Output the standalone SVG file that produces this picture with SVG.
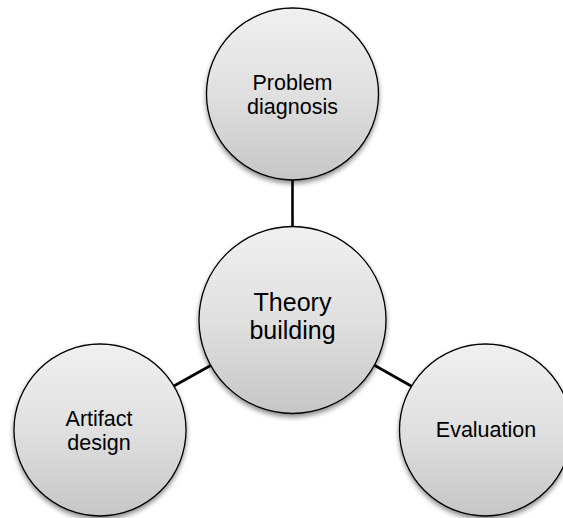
<svg xmlns="http://www.w3.org/2000/svg" width="563" height="518" viewBox="0 0 563 518">
  <style>
    .node { fill: url(#sphereFill); stroke: #000; stroke-width: 1.3; filter: url(#softShadow); }
    .label { font-family: "Liberation Sans", Arial, sans-serif; fill: #000; text-anchor: middle; }
    .small { font-size: 21.5px; }
    .big { font-size: 25px; }
    .link { stroke: #000; stroke-width: 2.6; fill: none; }
  </style>
  <defs>
    <linearGradient id="sphereFill" x1="0" y1="0" x2="0" y2="1">
      <stop offset="0" stop-color="#f0f0f0"/>
      <stop offset="0.5" stop-color="#e0e0e0"/>
      <stop offset="1" stop-color="#c6c6c6"/>
    </linearGradient>
    <filter id="softShadow" x="-20%" y="-20%" width="140%" height="140%">
      <feGaussianBlur in="SourceAlpha" stdDeviation="2.5"/>
      <feOffset dx="0" dy="2.5" result="blur"/>
      <feComponentTransfer><feFuncA type="linear" slope="0.45"/></feComponentTransfer>
      <feMerge><feMergeNode/><feMergeNode in="SourceGraphic"/></feMerge>
    </filter>
  </defs>

  <rect width="563" height="518" fill="#fff"/>

  <!-- spokes from the hub to each outer node -->
  <g id="connectors">
    <line class="link" x1="292.5" y1="180" x2="292.5" y2="227"/>
    <line class="link" x1="173" y1="386.5" x2="211.5" y2="365"/>
    <line class="link" x1="374" y1="365" x2="412" y2="386.5"/>
  </g>

  <g id="problem-diagnosis">
    <circle class="node" cx="292.5" cy="94" r="86"/>
    <text class="label small" x="292.5" y="89.5">Problem</text>
    <text class="label small" x="292.5" y="113.5">diagnosis</text>
  </g>

  <g id="theory-building">
    <circle class="node" cx="292.5" cy="320" r="93.5"/>
    <text class="label big" x="292.5" y="311">Theory</text>
    <text class="label big" x="292.5" y="339">building</text>
  </g>

  <g id="artifact-design">
    <circle class="node" cx="100" cy="430" r="86"/>
    <text class="label small" x="99" y="426">Artifact</text>
    <text class="label small" x="99" y="450">design</text>
  </g>

  <g id="evaluation">
    <circle class="node" cx="485.5" cy="430" r="86"/>
    <text class="label small" x="486" y="437">Evaluation</text>
  </g>
</svg>
